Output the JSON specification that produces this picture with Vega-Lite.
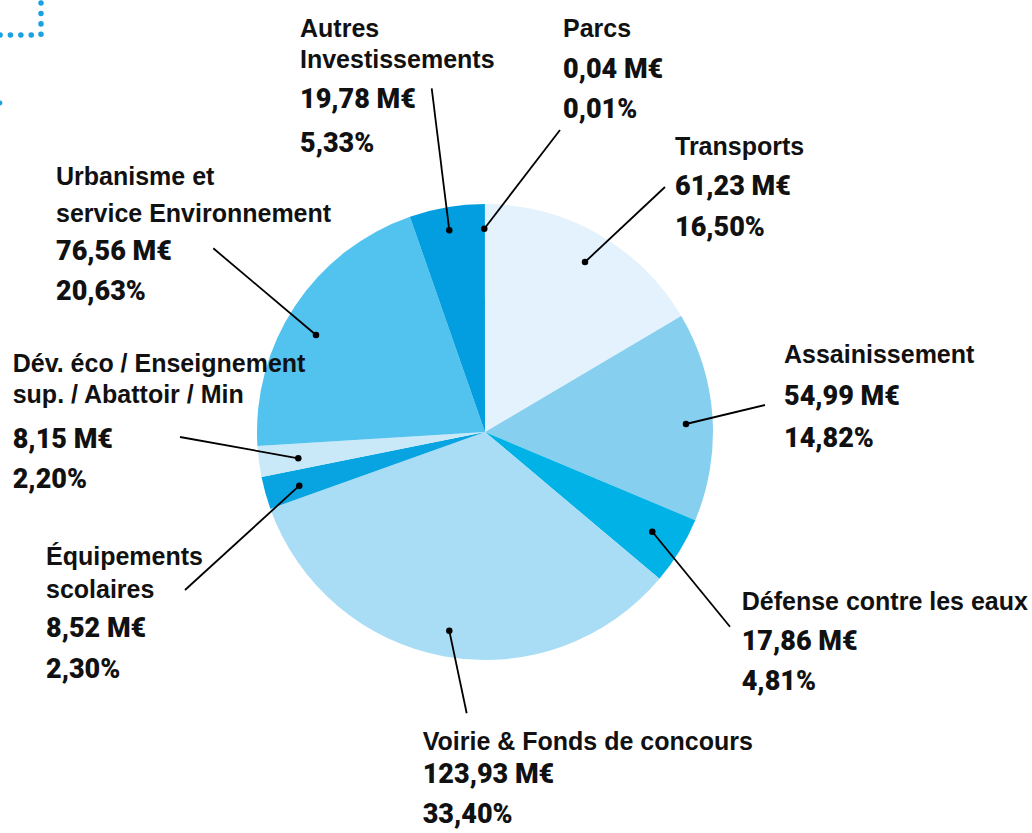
{
  "$schema": "https://vega.github.io/schema/vega-lite/v6.json",
  "width": 970,
  "height": 802,
  "autosize": {"type": "none"},
  "padding": {"left": 0, "top": 31, "right": 62, "bottom": 0},
  "background": "white",
  "config": {"view": {"stroke": null}},
  "datasets": {
    "slices": [
      {"cat": "Transports", "value": 61.23, "ord": 1},
      {"cat": "Assainissement", "value": 54.99, "ord": 2},
      {"cat": "Défense contre les eaux", "value": 17.86, "ord": 3},
      {"cat": "Voirie & Fonds de concours", "value": 123.93, "ord": 4},
      {"cat": "Équipements scolaires", "value": 8.52, "ord": 5},
      {"cat": "Dév. éco / Enseignement sup. / Abattoir / Min", "value": 8.15, "ord": 6},
      {"cat": "Urbanisme et service Environnement", "value": 76.56, "ord": 7},
      {"cat": "Autres Investissements", "value": 19.78, "ord": 8},
      {"cat": "Parcs", "value": 0.04, "ord": 9}
    ],
    "leaders": [
      {"cat": "Transports", "x1": 100, "y1": 170, "x2": 180, "y2": 245},
      {"cat": "Parcs", "x1": -0.7, "y1": 203.3, "x2": 75, "y2": 302},
      {"cat": "Autres", "x1": -35.7, "y1": 201.7, "x2": -53.3, "y2": 343.7},
      {"cat": "Urbanisme", "x1": -169, "y1": 97, "x2": -271.7, "y2": 183.7},
      {"cat": "Dev", "x1": -186.7, "y1": -26.3, "x2": -305, "y2": -5},
      {"cat": "Equip", "x1": -185.7, "y1": -53.7, "x2": -300, "y2": -158},
      {"cat": "Voirie", "x1": -35.7, "y1": -198.7, "x2": -18.3, "y2": -281.3},
      {"cat": "Defense", "x1": 167.3, "y1": -99.7, "x2": 245, "y2": -194.7},
      {"cat": "Assainissement", "x1": 201, "y1": 8, "x2": 280, "y2": 27}
    ],
    "deco": [
      {"x1": -485, "y1": 397, "x2": -444, "y2": 397},
      {"x1": -444, "y1": 429, "x2": -444, "y2": 397}
    ],
    "decodot": [
      {"x": -485, "y": 329}
    ],
    "labels": [
      {"kind": "label", "x": 190, "y": 277, "text": "Transports"},
      {"kind": "value", "x": 190, "y": 237, "text": "61,23 M€"},
      {"kind": "value", "x": 190, "y": 196, "text": "16,50%"},
      {"kind": "label", "x": 78, "y": 395.3, "text": "Parcs"},
      {"kind": "value", "x": 78, "y": 353.7, "text": "0,04 M€"},
      {"kind": "value", "x": 78, "y": 313.7, "text": "0,01%"},
      {"kind": "label", "x": -185, "y": 395.3, "text": "Autres"},
      {"kind": "label", "x": -185, "y": 363.7, "text": "Investissements"},
      {"kind": "value", "x": -185, "y": 323.7, "text": "19,78 M€"},
      {"kind": "value", "x": -185, "y": 280.3, "text": "5,33%"},
      {"kind": "label", "x": -429, "y": 247, "text": "Urbanisme et"},
      {"kind": "label", "x": -429, "y": 210.3, "text": "service Environnement"},
      {"kind": "value", "x": -429, "y": 172, "text": "76,56 M€"},
      {"kind": "value", "x": -429, "y": 132, "text": "20,63%"},
      {"kind": "label", "x": -472.3, "y": 60.3, "text": "Dév. éco / Enseignement"},
      {"kind": "label", "x": -472.3, "y": 28.7, "text": "sup. / Abattoir / Min"},
      {"kind": "value", "x": -472.3, "y": -16.3, "text": "8,15 M€"},
      {"kind": "value", "x": -472.3, "y": -56.3, "text": "2,20%"},
      {"kind": "label", "x": -439, "y": -133, "text": "Équipements"},
      {"kind": "label", "x": -439, "y": -166.3, "text": "scolaires"},
      {"kind": "value", "x": -439, "y": -204.7, "text": "8,52 M€"},
      {"kind": "value", "x": -439, "y": -246.3, "text": "2,30%"},
      {"kind": "label", "x": 299, "y": 68.7, "text": "Assainissement"},
      {"kind": "value", "x": 299, "y": 27, "text": "54,99 M€"},
      {"kind": "value", "x": 299, "y": -14.7, "text": "14,82%"},
      {"kind": "label", "x": 256.7, "y": -178, "text": "Défense contre les eaux"},
      {"kind": "value", "x": 256.7, "y": -218, "text": "17,86 M€"},
      {"kind": "value", "x": 256.7, "y": -258, "text": "4,81%"},
      {"kind": "label", "x": -62.3, "y": -318, "text": "Voirie & Fonds de concours"},
      {"kind": "value", "x": -62.3, "y": -351.3, "text": "123,93 M€"},
      {"kind": "value", "x": -62.3, "y": -391.3, "text": "33,40%"}
    ]
  },
  "layer": [
    {
      "data": {"name": "slices"},
      "mark": {"type": "arc", "outerRadius": 228},
      "encoding": {
        "theta": {"field": "value", "type": "quantitative", "stack": true},
        "order": {"field": "ord", "type": "quantitative"},
        "color": {
          "field": "cat",
          "type": "nominal",
          "legend": null,
          "scale": {
            "domain": ["Transports", "Assainissement", "Défense contre les eaux", "Voirie & Fonds de concours", "Équipements scolaires", "Dév. éco / Enseignement sup. / Abattoir / Min", "Urbanisme et service Environnement", "Autres Investissements", "Parcs"],
            "range": ["#e3f2fc", "#86cfef", "#00b2e6", "#a9ddf5", "#08a4e2", "#c9e9f9", "#52c3ee", "#029ee0", "#029ee0"]
          }
        }
      }
    },
    {
      "data": {"name": "deco"},
      "mark": {"type": "rule", "color": "#1ba1e2", "strokeWidth": 5.5, "strokeCap": "round", "strokeDash": [0.1, 10.3]},
      "encoding": {
        "x": {"field": "x1", "type": "quantitative", "scale": {"domain": [-485, 485], "nice": false, "zero": false}, "axis": null},
        "y": {"field": "y1", "type": "quantitative", "scale": {"domain": [-401, 401], "nice": false, "zero": false}, "axis": null},
        "x2": {"field": "x2"},
        "y2": {"field": "y2"}
      }
    },
    {
      "data": {"name": "decodot"},
      "mark": {"type": "circle", "color": "#1ba1e2", "size": 24, "opacity": 1},
      "encoding": {
        "x": {"field": "x", "type": "quantitative", "scale": {"domain": [-485, 485], "nice": false, "zero": false}, "axis": null},
        "y": {"field": "y", "type": "quantitative", "scale": {"domain": [-401, 401], "nice": false, "zero": false}, "axis": null}
      }
    },
    {
      "data": {"name": "leaders"},
      "mark": {"type": "rule", "color": "#000000", "strokeWidth": 1.8},
      "encoding": {
        "x": {"field": "x1", "type": "quantitative", "scale": {"domain": [-485, 485], "nice": false, "zero": false}, "axis": null},
        "y": {"field": "y1", "type": "quantitative", "scale": {"domain": [-401, 401], "nice": false, "zero": false}, "axis": null},
        "x2": {"field": "x2"},
        "y2": {"field": "y2"}
      }
    },
    {
      "data": {"name": "leaders"},
      "mark": {"type": "circle", "color": "#000000", "size": 42, "opacity": 1},
      "encoding": {
        "x": {"field": "x1", "type": "quantitative", "scale": {"domain": [-485, 485], "nice": false, "zero": false}, "axis": null},
        "y": {"field": "y1", "type": "quantitative", "scale": {"domain": [-401, 401], "nice": false, "zero": false}, "axis": null}
      }
    },
    {
      "data": {"name": "labels"},
      "transform": [{"filter": "datum.kind === 'label'"}],
      "mark": {"type": "text", "font": "Liberation Sans, Arial, sans-serif", "fontWeight": "bold", "fontSize": 25, "align": "left", "baseline": "alphabetic", "color": "#111111"},
      "encoding": {
        "x": {"field": "x", "type": "quantitative", "scale": {"domain": [-485, 485], "nice": false, "zero": false}, "axis": null},
        "y": {"field": "y", "type": "quantitative", "scale": {"domain": [-401, 401], "nice": false, "zero": false}, "axis": null},
        "text": {"field": "text", "type": "nominal"}
      }
    },
    {
      "data": {"name": "labels"},
      "transform": [{"filter": "datum.kind === 'value'"}],
      "mark": {"type": "text", "font": "Roboto, sans-serif", "fontWeight": 900, "fontSize": 27, "align": "left", "baseline": "alphabetic", "color": "#111111"},
      "encoding": {
        "x": {"field": "x", "type": "quantitative", "scale": {"domain": [-485, 485], "nice": false, "zero": false}, "axis": null},
        "y": {"field": "y", "type": "quantitative", "scale": {"domain": [-401, 401], "nice": false, "zero": false}, "axis": null},
        "text": {"field": "text", "type": "nominal"}
      }
    }
  ]
}
